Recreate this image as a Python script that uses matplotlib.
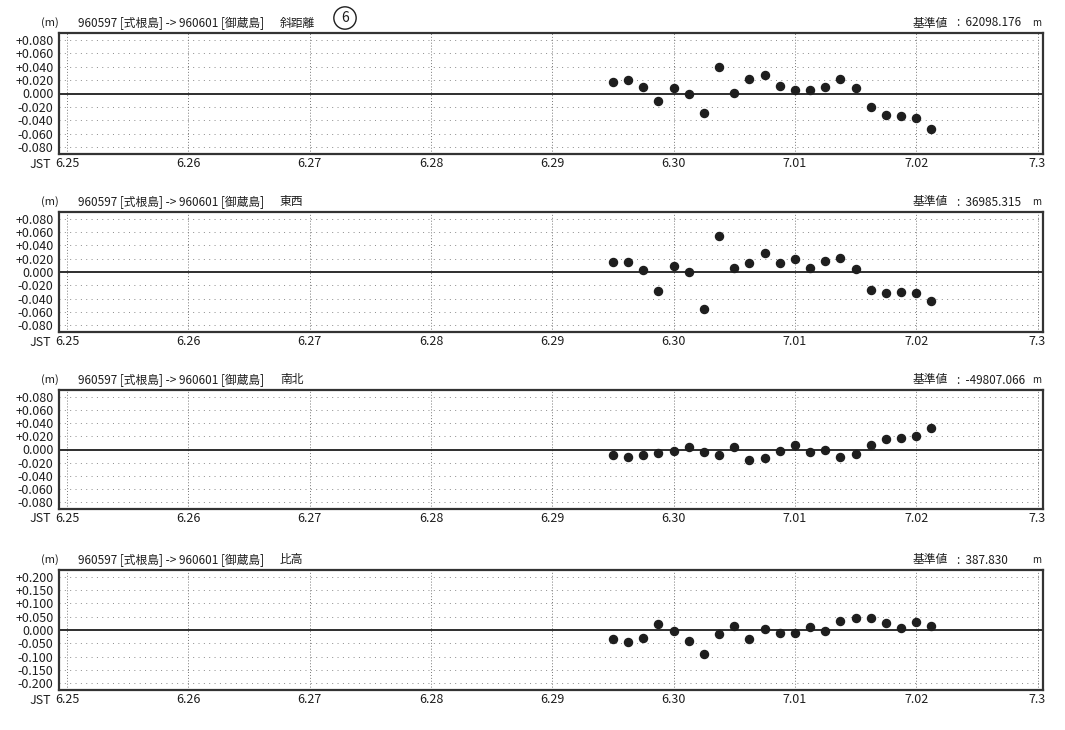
import pandas as pd
import matplotlib
matplotlib.use('Agg')
import matplotlib.pyplot as plt

plt.rcParams['font.family'] = ['Noto Sans CJK JP', 'DejaVu Sans']

# 観測時刻 (3時間毎)
times = ['2000-06-29 12:00', '2000-06-29 15:00', '2000-06-29 18:00', '2000-06-29 21:00',
         '2000-06-30 00:00', '2000-06-30 03:00', '2000-06-30 06:00', '2000-06-30 09:00',
         '2000-06-30 12:00', '2000-06-30 15:00', '2000-06-30 18:00', '2000-06-30 21:00',
         '2000-07-01 00:00', '2000-07-01 03:00', '2000-07-01 06:00', '2000-07-01 09:00',
         '2000-07-01 12:00', '2000-07-01 15:00', '2000-07-01 18:00', '2000-07-01 21:00',
         '2000-07-02 00:00', '2000-07-02 03:00']

# 各成分の変化量 (m)
slope = [0.017, 0.0195, 0.009, -0.011, 0.008, -0.001, -0.0295, 0.0395, 0.001, 0.0215, 0.027,
         0.011, 0.0055, 0.0055, 0.0095, 0.0215, 0.0085, -0.0205, -0.0315, -0.033, -0.037, -0.0535]
east_west = [0.0144, 0.0144, 0.0026, -0.028, 0.009, 0.0005, -0.056, 0.054, 0.0067, 0.013, 0.028,
             0.014, 0.019, 0.0056, 0.016, 0.021, 0.005, -0.027, -0.031, -0.030, -0.031, -0.044]
north_south = [-0.0083, -0.0117, -0.0088, -0.0059, -0.0024, 0.0034, -0.0034, -0.0088, 0.0034, -0.016,
               -0.0127, -0.0024, 0.0073, -0.0034, -0.001, -0.0107, -0.0073, 0.0063, 0.0156, 0.0176,
               0.021, 0.032]
height = [-0.035, -0.046, -0.031, 0.0225, -0.005, -0.04, -0.091, -0.015, 0.014, -0.035, 0.004,
          -0.0125, -0.0125, 0.0125, -0.005, 0.035, 0.045, 0.045, 0.025, 0.009, 0.03, 0.016]

components = ['斜距離', '東西', '南北', '比高']
base_values = ['62098.176', '36985.315', '-49807.066', '387.830']
series = [slope, east_west, north_south, height]

tick_dates = ['2000-06-25', '2000-06-26', '2000-06-27', '2000-06-28', '2000-06-29',
              '2000-06-30', '2000-07-01', '2000-07-02', '2000-07-03']
tick_labels = ['6.25', '6.26', '6.27', '6.28', '6.29', '6.30', '7.01', '7.02', '7.3']
yticks_small = [0.08, 0.06, 0.04, 0.02, 0.0, -0.02, -0.04, -0.06, -0.08]
yticks_large = [0.2, 0.15, 0.1, 0.05, 0.0, -0.05, -0.1, -0.15, -0.2]

origin = pd.Timestamp('2000-06-25')
x = (pd.to_datetime(times) - origin) / pd.Timedelta(days=1)
xt = (pd.to_datetime(tick_dates) - origin) / pd.Timedelta(days=1)

W, H = 1065, 730
fig = plt.figure(figsize=(W / 100, H / 100), dpi=100)
ink = '#1e1e1e'

tops = [33, 212, 390, 570]
bottoms = [154, 332, 509, 690]
left, right = 59, 1043

for i in range(4):
    ax = fig.add_axes([left / W, 1 - bottoms[i] / H, (right - left) / W, (bottoms[i] - tops[i]) / H])
    yt = yticks_large if i == 3 else yticks_small
    ymax = yt[0] * 1.13
    ax.set_xlim(-0.066, 8.045)
    ax.set_ylim(-ymax, ymax)

    # 点線のグリッド
    for v in yt:
        if v != 0:
            ax.axhline(v, color='#8a8a8a', lw=0.7, ls=(0, (1, 4.5)))
    for v in xt:
        ax.axvline(v, color='#777777', lw=0.7, ls=(0, (1, 2)))
    ax.axhline(0, color=ink, lw=1.3)

    ax.plot(x, series[i], 'o', color=ink, ms=5.8, zorder=5)

    ax.set_yticks(yt)
    ax.set_yticklabels(['+%.3f' % v if v > 0 else '%.3f' % v for v in yt])
    ax.set_xticks(xt)
    ax.set_xticklabels(tick_labels)
    ax.tick_params(length=0, labelsize=9, colors=ink)
    ax.tick_params(axis='y', pad=4)
    ax.tick_params(axis='x', pad=2)
    for s in ax.spines.values():
        s.set_linewidth(1.6)
        s.set_color('#333333')

    # 見出し
    hy = 1 - (tops[i] - 10) / H
    fig.text(50 / W, hy, '(m)', fontsize=8, ha='center', va='center', color=ink)
    fig.text(78 / W, hy, '960597 [式根島] -> 960601 [御蔵島]', fontsize=8.5, ha='left', va='center', color=ink)
    fig.text(280 / W, hy, components[i], fontsize=8.5, ha='left', va='center', color=ink)
    fig.text(913 / W, hy, '基準値', fontsize=8.5, ha='left', va='center', color=ink)
    fig.text(957 / W, hy, ':  ' + base_values[i], fontsize=8.5, ha='left', va='center', color=ink)
    fig.text(1037 / W, hy, 'm', fontsize=7, ha='center', va='center', color=ink)
    fig.text(40 / W, 1 - (bottoms[i] + 10) / H, 'JST', fontsize=9, ha='center', va='center', color=ink)

fig.text(345 / W, 1 - 18 / H, '6', fontsize=10, ha='center', va='center', color=ink,
         bbox=dict(boxstyle='circle,pad=0.3', fc='none', ec=ink, lw=1))

fig.savefig('out.png', dpi=100, facecolor='white')
